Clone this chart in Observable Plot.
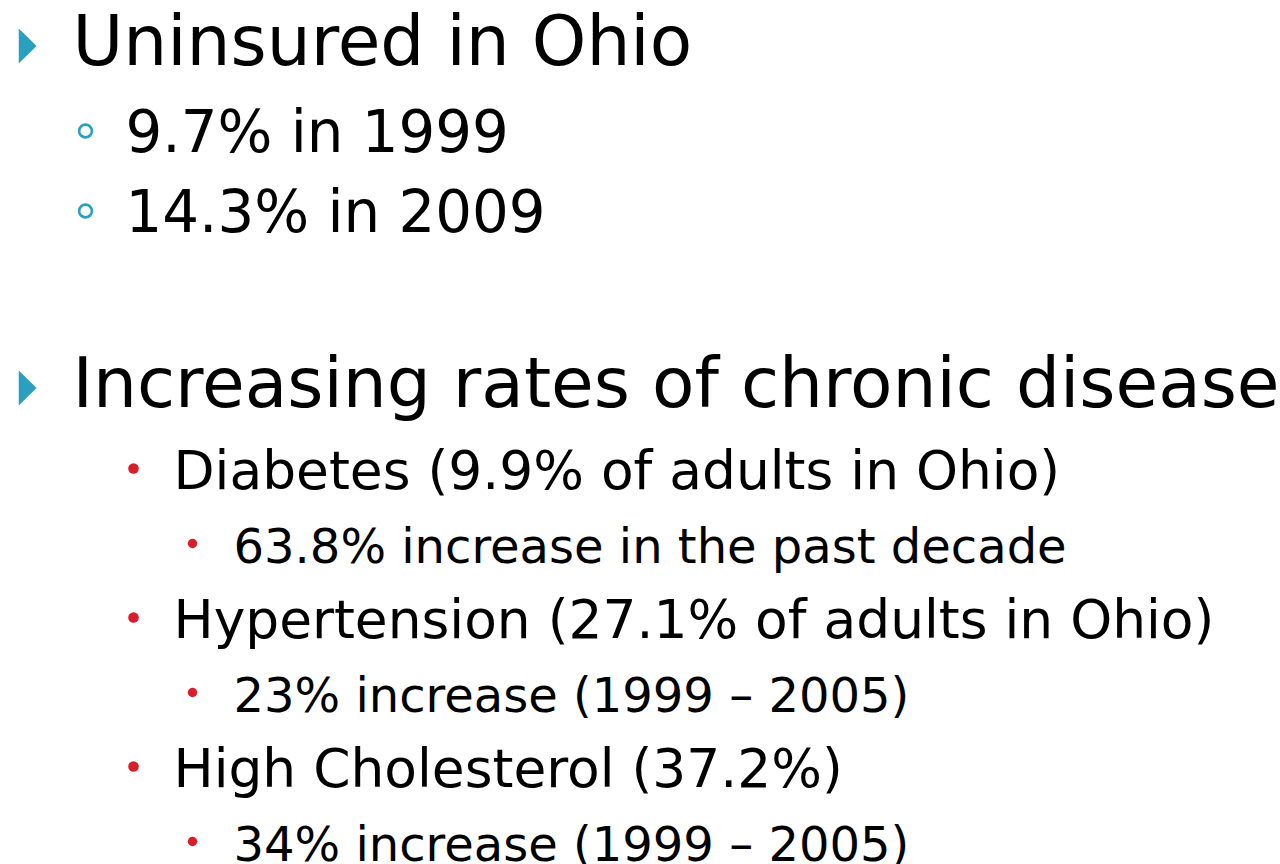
<!DOCTYPE html>
<html>
<head>
<meta charset="utf-8">
<script src="https://cdn.jsdelivr.net/npm/d3@7"></script>
<script src="https://cdn.jsdelivr.net/npm/@observablehq/plot@0.6"></script>
<style>
  html, body { margin: 0; padding: 0; background: #ffffff; }
  #chart svg { display: block; }
</style>
</head>
<body>
<div id="chart"></div>
<script>
// ---- Slide content (data) ----
const lines = [
  "Uninsured in Ohio",
  "9.7% in 1999",
  "14.3% in 2009",
  "Increasing rates of chronic disease",
  "Diabetes (9.9% of adults in Ohio)",
  "63.8% increase in the past decade",
  "Hypertension (27.1% of adults in Ohio)",
  "23% increase (1999 \u2013 2005)",
  "High Cholesterol (37.2%)",
  "34% increase (1999 \u2013 2005)"
];
const levels = [0, 1, 1, 0, 2, 3, 2, 3, 2, 3];
const blankLineBefore = [false, false, false, true, false, false, false, false, false, false];

// ---- Layout / style config (not data) ----
const indent = [72, 125, 173, 233];
const fontSizes = [69.4, 57.8, 53.4, 48];
const lineGap = [88, 80, 75, 74];
const spaceAfterHeading = 7;
const blankLine = 87;
const firstBaseline = 64;

const blue = "#2a9fbf";
const red = "#d71f2b";

// Build rows with a simple flow layout
const rows = [];
let yPos = firstBaseline;
lines.forEach((t, i) => {
  const lvl = levels[i];
  if (i > 0) {
    yPos += lineGap[lvl];
    if (levels[i - 1] === 0) yPos += spaceAfterHeading;
    if (blankLineBefore[i]) yPos += blankLine;
  }
  rows.push({text: t, level: lvl, x: indent[lvl], y: yPos, size: fontSizes[lvl]});
});

// right-pointing triangle symbol
const triangleRight = {
  draw(ctx, size) {
    const r = Math.sqrt(size / Math.PI);
    ctx.moveTo(-r * 0.5, -r);
    ctx.lineTo(r * 0.52, 0);
    ctx.lineTo(-r * 0.5, r);
    ctx.closePath();
  }
};

const lvl = (k) => rows.filter(d => d.level === k);

const chart = Plot.plot({
  width: 1280,
  height: 864,
  margin: 0,
  x: {domain: [0, 1280], range: [0, 1280], axis: null},
  y: {domain: [0, 864], range: [0, 864], axis: null},
  style: {background: "#ffffff"},
  marks: [
    Plot.dot(lvl(0), {x: "x", y: "y", dx: -45, dy: -18.5, symbol: triangleRight, r: 17.5, fill: blue, stroke: "none"}),
    Plot.dot(lvl(1), {x: "x", y: "y", dx: -40, dy: -20.5, r: 6.4, fill: "none", stroke: blue, strokeWidth: 2.6}),
    Plot.dot(lvl(2), {x: "x", y: "y", dx: -40, dy: -20, r: 5.3, fill: red, stroke: "none"}),
    Plot.dot(lvl(3), {x: "x", y: "y", dx: -41, dy: -19, r: 4.7, fill: red, stroke: "none"}),
    Plot.text(rows, {
      x: "x", y: "y", text: "text", fontSize: "size",
      textAnchor: "start", lineAnchor: "bottom",
      fill: "#000000", fontFamily: "DejaVu Sans"
    })
  ]
});
document.getElementById("chart").appendChild(chart);
</script>
</body>
</html>
